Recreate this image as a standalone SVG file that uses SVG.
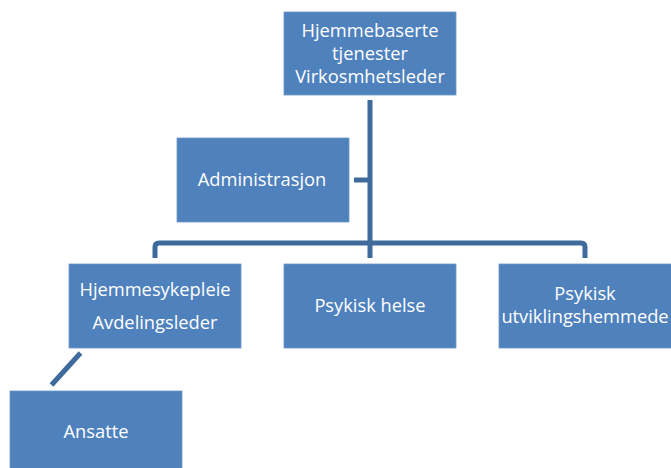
<svg xmlns="http://www.w3.org/2000/svg" width="671" height="468" viewBox="0 0 671 468">
<style>
.box{fill:#4F81BD;stroke:#6F97C8;stroke-width:0.8}
.t{font-family:"Open Sans","Liberation Sans",Arial,sans-serif;font-size:18.3px;fill:#FFFFFF;text-anchor:middle}
.c{fill:none;stroke:#3F6A9C;stroke-width:5;stroke-linejoin:round}
</style>
<rect width="671" height="468" fill="#FFFFFF"/>
<g id="connectors">
<path class="c" d="M370,100 V258"/>
<path class="c" d="M354,180 H370"/>
<path class="c" d="M155,258 V247 Q155,243 159,243 H581 Q585,243 585,247 V258"/>
<path class="c" d="M80.5,353 L51.5,385"/>
</g>
<g id="top">
<rect class="box" x="284" y="12" width="172" height="83"/>
<text class="t" x="370" y="37">Hjemmebaserte</text>
<text class="t" x="370" y="60">tjenester</text>
<text class="t" x="370" y="83">Virkosmhetsleder</text>
</g>
<g id="admin">
<rect class="box" x="177" y="138" width="172" height="84"/>
<text class="t" x="262" y="186">Administrasjon</text>
</g>
<g id="hjemmesykepleie">
<rect class="box" x="69" y="264" width="172" height="84"/>
<text class="t" x="155" y="296">Hjemmesykepleie</text>
<text class="t" x="155" y="329">Avdelingsleder</text>
</g>
<g id="psykisk-helse">
<rect class="box" x="284" y="264" width="172" height="84"/>
<text class="t" x="370" y="312">Psykisk helse</text>
</g>
<g id="psykisk-utv">
<rect class="box" x="499" y="264" width="174" height="84"/>
<text class="t" x="585" y="300">Psykisk</text>
<text class="t" x="585" y="323">utviklingshemmede</text>
</g>
<g id="ansatte">
<rect class="box" x="10" y="391" width="172" height="84"/>
<text class="t" x="96" y="438">Ansatte</text>
</g>
</svg>
